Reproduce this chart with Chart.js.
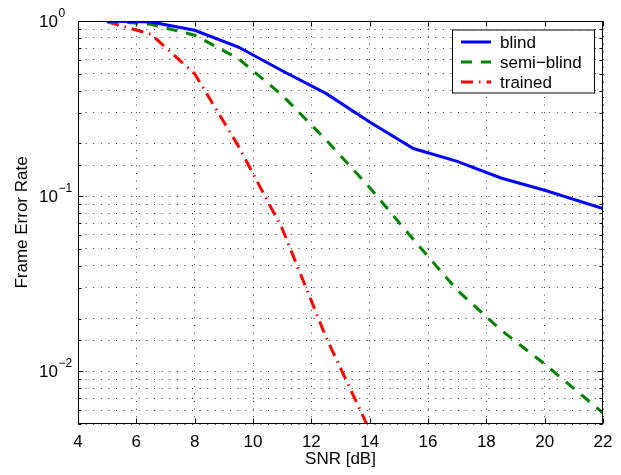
<!DOCTYPE html>
<html><head><meta charset="utf-8">
<script src="https://cdn.jsdelivr.net/npm/chart.js@4.4.0/dist/chart.umd.min.js"></script>
<style>html,body{margin:0;padding:0;background:#fff;} #wrap{width:621px;height:475px;position:relative;}</style>
</head><body><div id="wrap"><canvas id="c" width="621" height="475" style="width:621px;height:475px"></canvas></div>
<script>
// ---- data ----
const blindSnr    = [5, 6.5, 8, 9.5, 11, 12.5, 14, 15.5, 17, 18.5, 20, 22];
const blindFER    = [1.0, 0.988, 0.885, 0.71, 0.52, 0.386, 0.265, 0.187, 0.158, 0.127, 0.108, 0.085];
const semiSnr     = [5, 6.5, 8, 9.5, 11, 12.5, 14, 15.5, 17, 18.5, 20, 22];
const semiFER     = [1.0, 0.957, 0.83, 0.61, 0.377, 0.21, 0.112, 0.0565, 0.0291, 0.0172, 0.011, 0.00578];
const trainedSnr  = [5, 6.5, 8, 9.5, 11, 12.5, 14];
const trainedFER  = [0.99, 0.84, 0.5, 0.193, 0.0653, 0.0157, 0.0046];
const seriesNames = ['blind', 'semi\u2212blind', 'trained'];
const xTickValues = [4, 6, 8, 10, 12, 14, 16, 18, 20, 22];
const yDecadeValues = [1, 0.1, 0.01];
const yDecadeExponents = ['0', '\u22121', '\u22122'];
const xTitle = 'SNR [dB]';
const yTitle = 'Frame Error Rate';

const FONT = '"Liberation Sans", Arial, Helvetica, sans-serif';
const toXY = (xs, ys) => xs.map((v, i) => ({x: v, y: ys[i]}));

const framePlugin = {
  id: 'frame',
  afterDraw(chart) {
    const {ctx, chartArea: a, scales: {x, y}} = chart;
    ctx.save();
    ctx.strokeStyle = '#000';
    ctx.lineWidth = 1;
    const L = Math.round(a.left) + 0.5, R = Math.round(a.right) - 0.5;
    const T = Math.round(a.top) + 0.5, B = Math.round(a.bottom) - 0.5;
    ctx.beginPath();
    xTickValues.forEach(v => {
      const px = Math.round(x.getPixelForValue(v)) + 0.5;
      ctx.moveTo(px, B); ctx.lineTo(px, B - 5);
      ctx.moveTo(px, T); ctx.lineTo(px, T + 5);
    });
    y.ticks.forEach(t => {
      const lg = Math.log10(t.value);
      const major = Math.abs(lg - Math.round(lg)) < 1e-6;
      const len = major ? 5 : 3;
      const py = Math.round(y.getPixelForValue(t.value)) + 0.5;
      ctx.moveTo(L, py); ctx.lineTo(L + len, py);
      ctx.moveTo(R, py); ctx.lineTo(R - len, py);
    });
    ctx.stroke();
    ctx.strokeRect(L, T, R - L, B - T);

    ctx.fillStyle = '#000';
    ctx.textAlign = 'left';
    ctx.textBaseline = 'alphabetic';
    yDecadeValues.forEach((v, i) => {
      const py = y.getPixelForValue(v);
      ctx.font = '17px ' + FONT;
      const bx = 39;
      ctx.fillText('10', bx, py + 6);
      const w = ctx.measureText('10').width;
      ctx.font = '12px ' + FONT;
      ctx.fillText(yDecadeExponents[i], bx + w + 0.5, py - 4);
    });

    const lx = 452, ly = 29.5, lw = 142, lh = 63;
    ctx.fillStyle = '#fff';
    ctx.fillRect(lx, ly, lw, lh);
    ctx.strokeStyle = '#000';
    ctx.lineWidth = 1;
    ctx.strokeRect(lx + 0.5, ly + 0.5, lw, lh);
    const rows = [42, 62, 82];
    chart.data.datasets.forEach((ds, i) => {
      ctx.save();
      ctx.strokeStyle = ds.borderColor;
      ctx.lineWidth = ds.borderWidth;
      ctx.setLineDash(ds.borderDash || []);
      ctx.beginPath();
      ctx.moveTo(461, rows[i]); ctx.lineTo(491, rows[i]);
      ctx.stroke();
      ctx.restore();
      ctx.fillStyle = '#000';
      ctx.font = '17px ' + FONT;
      ctx.textBaseline = 'middle';
      ctx.fillText(ds.label, 500, rows[i] + 1);
    });
    ctx.restore();
  }
};

const gridDash = [1, 6.6];
new Chart(document.getElementById('c'), {
  type: 'line',
  data: {
    datasets: [
      {label: seriesNames[0], data: toXY(blindSnr, blindFER), borderColor: '#0000ff', borderWidth: 3, borderDash: [], pointRadius: 0, tension: 0, fill: false},
      {label: seriesNames[1], data: toXY(semiSnr, semiFER), borderColor: '#008000', borderWidth: 3, borderDash: [11, 9], pointRadius: 0, tension: 0, fill: false},
      {label: seriesNames[2], data: toXY(trainedSnr, trainedFER), borderColor: '#ff0000', borderWidth: 3, borderDash: [12, 6, 1.5, 6], pointRadius: 0, tension: 0, fill: false}
    ]
  },
  options: {
    responsive: false,
    animation: false,
    devicePixelRatio: 1,
    layout: {padding: {left: 0, right: 18, top: 21, bottom: 0}},
    plugins: {legend: {display: false}, tooltip: {enabled: false}},
    scales: {
      x: {
        type: 'linear', min: 4, max: 22,
        afterBuildTicks: s => { s.ticks = xTickValues.map(v => ({value: v})); },
        ticks: {color: '#000', font: {family: FONT, size: 17}, padding: 8, autoSkip: false, maxRotation: 0},
        grid: {color: 'rgba(0,0,0,0.8)', lineWidth: 1, drawTicks: false},
        border: {display: false, dash: gridDash},
        title: {display: true, text: xTitle, color: '#000', font: {family: FONT, size: 17}, padding: {top: 0, bottom: 5}},
        afterFit: s => { s.height = 51; }
      },
      y: {
        type: 'logarithmic', min: 0.005, max: 1,
        ticks: {display: false, autoSkip: false},
        grid: {color: 'rgba(0,0,0,0.8)', lineWidth: 1, drawTicks: false},
        border: {display: false, dash: gridDash},
        title: {display: true, text: yTitle, color: '#000', font: {family: FONT, size: 17}, padding: {top: 12, bottom: 0}},
        afterFit: s => { s.width = 78; }
      }
    }
  },
  plugins: [framePlugin]
});
</script>
</body></html>
